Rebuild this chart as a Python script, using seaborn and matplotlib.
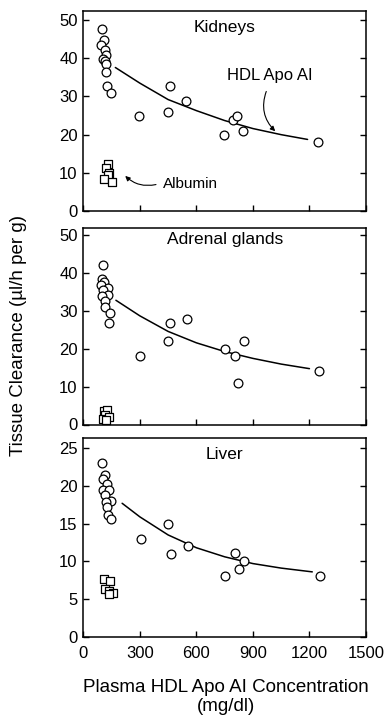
import matplotlib
matplotlib.use("Agg")
import matplotlib.pyplot as plt
import seaborn as sns
import pandas as pd

sns.set_theme(style="white")
plt.rcParams['font.family'] = ['Liberation Sans', 'DejaVu Sans']

# ---- data ----
panel_titles = ["Kidneys", "Adrenal glands", "Liver"]

kid_hdl_x = [99, 111, 95, 116, 120, 106, 113, 120, 120, 128, 146, 296, 458, 447, 546, 749, 794, 815, 847, 1247]
kid_hdl_y = [47.7, 44.9, 43.4, 42.1, 40.9, 39.9, 39.3, 38.5, 36.3, 32.8, 31.0, 24.8, 32.8, 25.9, 28.8, 19.9, 23.8, 24.9, 20.9, 18.0]
kid_alb_x = [132, 123, 137, 129, 110, 152]
kid_alb_y = [12.3, 11.2, 10.0, 9.4, 8.3, 7.6]
kid_fit_x = [170, 300, 450, 600, 750, 900, 1050, 1190]
kid_fit_y = [37.6, 33.5, 29.2, 26.3, 23.7, 21.6, 20.0, 18.75]

adr_hdl_x = [106, 99, 111, 92, 131, 106, 132, 99, 116, 116, 141, 138, 300, 462, 452, 550, 753, 852, 803, 822, 1252]
adr_hdl_y = [42.1, 38.4, 37.5, 36.7, 35.9, 35.3, 34.2, 33.8, 32.4, 31.0, 29.4, 26.8, 18.0, 26.8, 21.9, 27.9, 19.9, 22.0, 17.9, 10.9, 14.0]
adr_alb_x = [110, 125, 115, 105, 135, 120]
adr_alb_y = [3.5, 3.9, 2.5, 1.5, 1.9, 1.2]
adr_fit_x = [173, 300, 450, 600, 750, 900, 1050, 1200]
adr_fit_y = [32.7, 28.6, 24.5, 21.5, 19.2, 17.4, 15.9, 14.7]

liv_hdl_x = [99, 116, 103, 124, 106, 138, 116, 145, 120, 124, 131, 147, 304, 452, 464, 556, 753, 804, 824, 855, 1256]
liv_hdl_y = [23.0, 21.4, 20.9, 20.3, 19.5, 19.5, 18.8, 18.0, 17.9, 17.2, 16.1, 15.6, 13.0, 15.0, 11.0, 12.0, 8.0, 11.1, 9.0, 10.0, 8.0]
liv_alb_x = [109, 144, 115, 138, 157, 138]
liv_alb_y = [7.6, 7.4, 6.3, 6.1, 5.8, 5.6]
liv_fit_x = [206, 300, 450, 600, 750, 900, 1050, 1215]
liv_fit_y = [17.7, 15.9, 13.5, 11.8, 10.6, 9.7, 9.1, 8.6]

x_ticks = [0, 300, 600, 900, 1200, 1500]
y_ticks_top = [0, 10, 20, 30, 40, 50]
y_ticks_liver = [0, 5, 10, 15, 20, 25]

panels = [
    (kid_hdl_x, kid_hdl_y, kid_alb_x, kid_alb_y, kid_fit_x, kid_fit_y, y_ticks_top, 52.4),
    (adr_hdl_x, adr_hdl_y, adr_alb_x, adr_alb_y, adr_fit_x, adr_fit_y, y_ticks_top, 51.8),
    (liv_hdl_x, liv_hdl_y, liv_alb_x, liv_alb_y, liv_fit_x, liv_fit_y, y_ticks_liver, 26.4),
]

W, H = 390, 719
fig = plt.figure(figsize=(W / 100, H / 100), dpi=100)
left, right = 83.3, 366.0
boxes = [(11, 211), (227.7, 424.5), (437.7, 636.7)]
title_y = [0.895, 0.915, 0.895]

axes = []
for i, ((hx, hy, ax_, ay, fx, fy, yt, ytop), (t, b)) in enumerate(zip(panels, boxes)):
    ax = fig.add_axes([left / W, 1 - b / H, (right - left) / W, (b - t) / H])
    axes.append(ax)
    sns.lineplot(x=fx, y=fy, ax=ax, color="black", linewidth=1.1, sort=True)
    sns.scatterplot(x=hx, y=hy, ax=ax, marker="o", s=40, facecolor="white",
                    edgecolor="black", linewidth=0.9, zorder=3)
    sns.scatterplot(x=ax_, y=ay, ax=ax, marker="s", s=40, facecolor="white",
                    edgecolor="black", linewidth=0.9, zorder=3)
    ax.set_xlim(0, 1500)
    ax.set_ylim(0, ytop)
    ax.set_xticks(x_ticks)
    ax.set_yticks(yt)
    ax.tick_params(axis="both", direction="in", length=4, width=1, color="black",
                   labelsize=12, labelcolor="black")
    ax.tick_params(axis="y", right=True, left=True, pad=4)
    ax.tick_params(axis="x", bottom=True, top=False, pad=7)
    if i < 2:
        ax.set_xticklabels([])
    for sp in ax.spines.values():
        sp.set_color("black")
        sp.set_linewidth(1.1)
    ax.set_xlabel("")
    ax.set_ylabel("")
    ax.text(0.5, title_y[i], panel_titles[i], transform=ax.transAxes,
            ha="center", va="baseline", fontsize=12.5, color="black")

# annotations in top panel
a0 = axes[0]
a0.text(988, 35.6, "HDL Apo AI", ha="center", va="center", fontsize=12, color="black")
a0.annotate("", xy=(1029, 20.4), xytext=(976, 32.0),
            arrowprops=dict(arrowstyle="-|>", color="black", lw=0.8,
                            mutation_scale=7, connectionstyle="arc3,rad=0.35"))
a0.text(422, 7.1, "Albumin", ha="left", va="center", fontsize=11, color="black")
a0.annotate("", xy=(212, 9.7), xytext=(400, 7.1),
            arrowprops=dict(arrowstyle="-|>", color="black", lw=0.8,
                            mutation_scale=7, connectionstyle="arc3,rad=-0.3"))

fig.text(19 / W, 1 - 335 / H, "Tissue Clearance (µl/h per g)", rotation=90,
         ha="center", va="center", fontsize=13.5, color="black")
fig.text(226 / W, 1 - 697 / H, "Plasma HDL Apo AI Concentration\n(mg/dl)",
         ha="center", va="center", fontsize=13.5, color="black", linespacing=1.2)

fig.savefig("out.png", dpi=100, facecolor="white")
